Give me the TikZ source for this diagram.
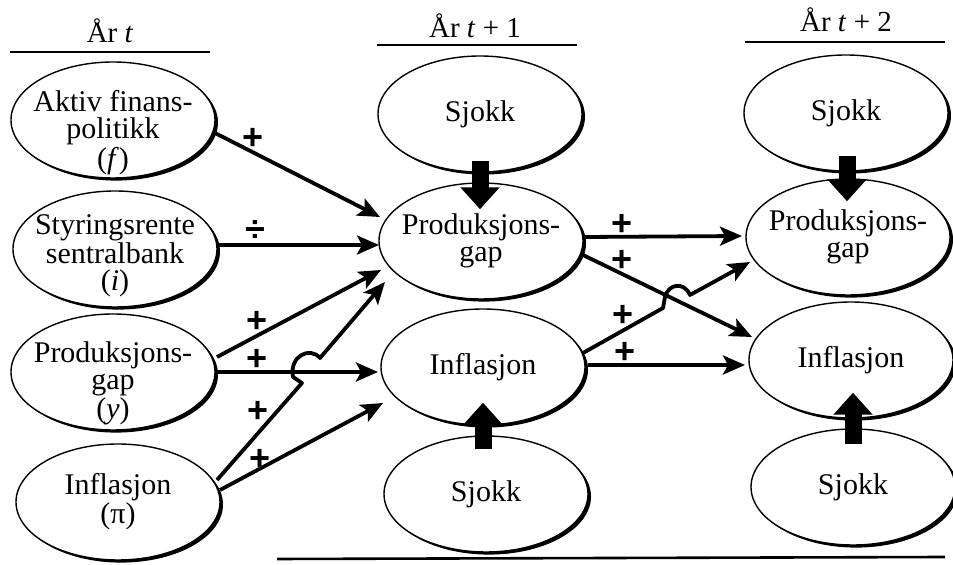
\documentclass[tikz,border=0pt]{standalone}
\usepackage{fontspec}
\setmainfont{Liberation Serif}
\setsansfont{Liberation Sans}
\usetikzlibrary{shapes.geometric,arrows.meta,shadows}
\newcommand\padtop[1]{\rule{0pt}{#1}}
\begin{document}
\begin{tikzpicture}[x=0.5pt,y=-0.5pt,
  oval/.style={ellipse, draw, line width=0.7pt, fill=white,
    minimum width=102pt, minimum height=58pt,
    inner xsep=-25pt, inner ysep=-10pt, align=center,
    font=\fontsize{15}{13.5}\selectfont,
    general shadow={fill=black, shadow xshift=1.5pt, shadow yshift=-1.3pt}},
  hdr/.style={font=\fontsize{14.5}{14}\selectfont, inner sep=0pt},
  rulel/.style={line width=1.3pt},
  arr/.style={line width=1.9pt, line join=round,
    -{Stealth[length=11pt,width=9.5pt,inset=2.5pt]}},
  blk/.style={line width=8.5pt, -{Triangle[length=11pt,width=19pt]}},
  pl/.style={font=\fontsize{18}{18}\sffamily\bfseries, inner sep=0pt}]
\useasboundingbox (0,0) rectangle (953,565);

% headers
\node[hdr, anchor=base] (h1) at (110,43) {År \textit{t}};
\node[hdr, anchor=base] (h2) at (475,38) {År \textit{t} + 1};
\node[hdr, anchor=base] (h3) at (846,32) {År \textit{t} + 2};
\draw[rulel] (10,52) -- (210,52);
\draw[rulel] (377,45) -- (577,45);
\draw[rulel] (745,42) -- (945,42);
\draw[rulel] (277,559) -- (945,557);

% column t
\node[oval] (a1) at (113,120) {\padtop{23pt}Aktiv finans-\\politikk\\(\textit{f}\/)};
\node[oval] (a2) at (115,249) {\padtop{17pt}Styringsrente\\sentralbank\\(\textit{i}\/)};
\node[oval] (a3) at (113,372) {\padtop{22pt}Produksjons-\\gap\\(\textit{y})};
\node[oval] (a4) at (118,502) {Inflasjon\\(π)};

% column t+1
\node[oval] (s1) at (480,114) {Sjokk};
\node[oval] (p1) at (481,241) {Produksjons-\\gap};
\node[oval] (i1) at (483,367) {Inflasjon};
\node[oval] (s2) at (486,494) {Sjokk};

% column t+2
\node[oval] (s3) at (846,113) {Sjokk};
\node[oval] (p2) at (848,237) {Produksjons-\\gap};
\node[oval] (i2) at (851,360) {Inflasjon};
\node[oval] (s4) at (853,487) {Sjokk};

% shock arrows
\draw[blk] ([shift={(0,-12)}]s1.south) -- ([shift={(-1,27)}]p1.north);
\draw[blk] ([shift={(-3,14)}]s2.north) -- ([shift={(0,-23)}]i1.south);
\draw[blk] ([shift={(1,-16)}]s3.south) -- ([shift={(-1,23)}]p2.north);
\draw[blk] ([shift={(0,16)}]s4.north) -- ([shift={(2,-26)}]i2.south);

% arrows from year t
\draw[arr] ([shift={(102,13)}]a1.center) -- ([shift={(-101,-24)}]p1.center);
\draw[arr] ([shift={(102,-4)}]a2.center) -- ([shift={(-102,4)}]p1.center);
\draw[arr] ([shift={(104,-15)}]a3.center) -- ([shift={(-100,29)}]p1.center);
\draw[arr] ([shift={(104,0)}]a3.center) -- ([shift={(-105,5)}]i1.center);
\draw[arr] ([shift={(99,-22)}]a4.center) -- (302,383) -- (293,377)
   .. controls (289,356) and (310,346) .. (320,358)
   -- ([shift={(-96,41)}]p1.center);
\draw[arr] ([shift={(102,-12)}]a4.center) -- ([shift={(-100,36)}]i1.center);

% arrows from year t+1
\draw[arr] ([shift={(104,-4)}]p1.center) -- ([shift={(-106,-1)}]p2.center);
\draw[arr] ([shift={(102,14)}]p1.center) -- ([shift={(-99,-23)}]i2.center);
\draw[arr] ([shift={(100,-14)}]i1.center) -- (663,308) -- (665,297)
   .. controls (668,284) and (684,281) .. (690,295)
   -- ([shift={(-98,25)}]p2.center);
\draw[arr] ([shift={(105,-2)}]i1.center) -- ([shift={(-106,5)}]i2.center);

% signs
\node[pl] (l1) at (253,139) {+};
\node[pl] (l2) at (255,231) {÷};
\node[pl] (l3) at (257,322) {+};
\node[pl] (l4) at (257,360) {+};
\node[pl] (l5) at (258,412) {+};
\node[pl] (l6) at (260,460) {+};
\node[pl] (l7) at (622,225) {+};
\node[pl] (l8) at (622,261) {+};
\node[pl] (l9) at (623,316) {+};
\node[pl] (l10) at (625,353) {+};
\end{tikzpicture}
\end{document}
